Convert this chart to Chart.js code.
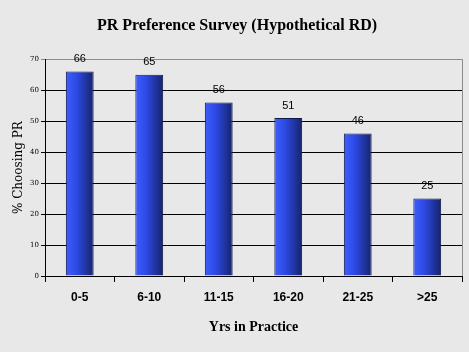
<!DOCTYPE html>
<html>
<head>
<meta charset="utf-8">
<script src="https://cdn.jsdelivr.net/npm/chart.js@4/dist/chart.umd.min.js"></script>
<style>
  html, body { margin: 0; padding: 0; background: #e8e8e8; }
  #wrap { width: 469px; height: 352px; }
</style>
</head>
<body>
<div id="wrap"><canvas id="survey-chart" width="469" height="352"></canvas></div>
<script>
const categories = ['0-5', '6-10', '11-15', '16-20', '21-25', '>25'];
const percentChoosing = [66, 65, 56, 51, 46, 25];
const yTicks = [0, 10, 20, 30, 40, 50, 60, 70];

const BAR_PCT = 0.4;
const ctx = document.getElementById('survey-chart').getContext('2d');

// horizontal shading across each bar, from the x scale
const barFill = (context) => {
  const { chart, dataIndex } = context;
  const xScale = chart.scales && chart.scales.x;
  if (!chart.chartArea || !xScale) return '#2a45d8';
  const cx = xScale.getPixelForValue(dataIndex);
  const half = (xScale.width / categories.length) * BAR_PCT / 2;
  if (!Number.isFinite(cx) || !Number.isFinite(half)) return '#2a45d8';
  const grad = chart.ctx.createLinearGradient(cx - half, 0, cx + half, 0);
  grad.addColorStop(0, '#3d5eff');
  grad.addColorStop(0.4, '#2c49e2');
  grad.addColorStop(1, '#16236a');
  return grad;
};

const decorations = {
  id: 'decorations',
  beforeDraw(chart) {
    const c = chart.ctx;
    c.save();
    c.fillStyle = '#e8e8e8';
    c.fillRect(0, 0, chart.width, chart.height);
    c.restore();
  },
  afterDatasetsDraw(chart) {
    const c = chart.ctx;
    const { chartArea: { top, right, bottom } } = chart;
    c.save();
    c.strokeStyle = '#8c8c8c';
    c.lineWidth = 1;
    c.beginPath();
    c.moveTo(right + 0.5, top);
    c.lineTo(right + 0.5, bottom);
    c.stroke();
    // value labels above bars
    c.font = '11px "Liberation Sans"';
    c.fillStyle = '#000';
    c.textAlign = 'center';
    c.textBaseline = 'bottom';
    chart.getDatasetMeta(0).data.forEach((bar, i) => {
      c.fillText(String(percentChoosing[i]), bar.x, bar.y - 7);
    });
    c.restore();
  },
};

new Chart(ctx, {
  type: 'bar',
  data: {
    labels: categories,
    datasets: [{
      data: percentChoosing,
      backgroundColor: barFill,
      borderColor: '#10184a',
      borderWidth: 1,
      categoryPercentage: 1,
      barPercentage: BAR_PCT,
    }],
  },
  options: {
    responsive: false,
    animation: false,
    layout: { padding: { left: 12, right: 7, top: 0, bottom: 0 } },
    plugins: {
      legend: { display: false },
      tooltip: { enabled: false },
      title: {
        display: true,
        text: 'PR Preference Survey (Hypothetical RD)',
        font: { family: '"Liberation Serif"', size: 16, weight: 'bold' },
        color: '#000',
        padding: { top: 16, bottom: 24 },
      },
    },
    scales: {
      x: {
        grid: { display: true, drawOnChartArea: false, drawTicks: true, tickLength: 6, color: '#000' },
        border: { color: '#000' },
        ticks: {
          color: '#000',
          font: { family: '"Liberation Sans"', size: 12, weight: 'bold' },
          padding: 8,
        },
        title: {
          display: true,
          text: 'Yrs in Practice',
          color: '#000',
          font: { family: '"Liberation Serif"', size: 14, weight: 'bold' },
          padding: { top: 4, bottom: 16 },
        },
        afterFit(scale) { scale.height = 76; },
      },
      y: {
        min: 0,
        max: 70,
        afterBuildTicks(scale) { scale.ticks = yTicks.map((v) => ({ value: v })); },
        grid: {
          color: (c) => (c.tick && c.tick.value === 70 ? '#8c8c8c' : '#000'),
          tickLength: 4,
        },
        border: { color: '#000' },
        ticks: {
          color: '#000',
          font: { family: '"DejaVu Serif"', size: 7 },
          padding: 2,
        },
        title: {
          display: true,
          text: '% Choosing PR',
          color: '#000',
          font: { family: '"DejaVu Serif"', size: 12 },
          padding: { top: 0, bottom: 2 },
        },
        afterFit(scale) { scale.width = 33; },
      },
    },
  },
  plugins: [decorations],
});
</script>
</body>
</html>
